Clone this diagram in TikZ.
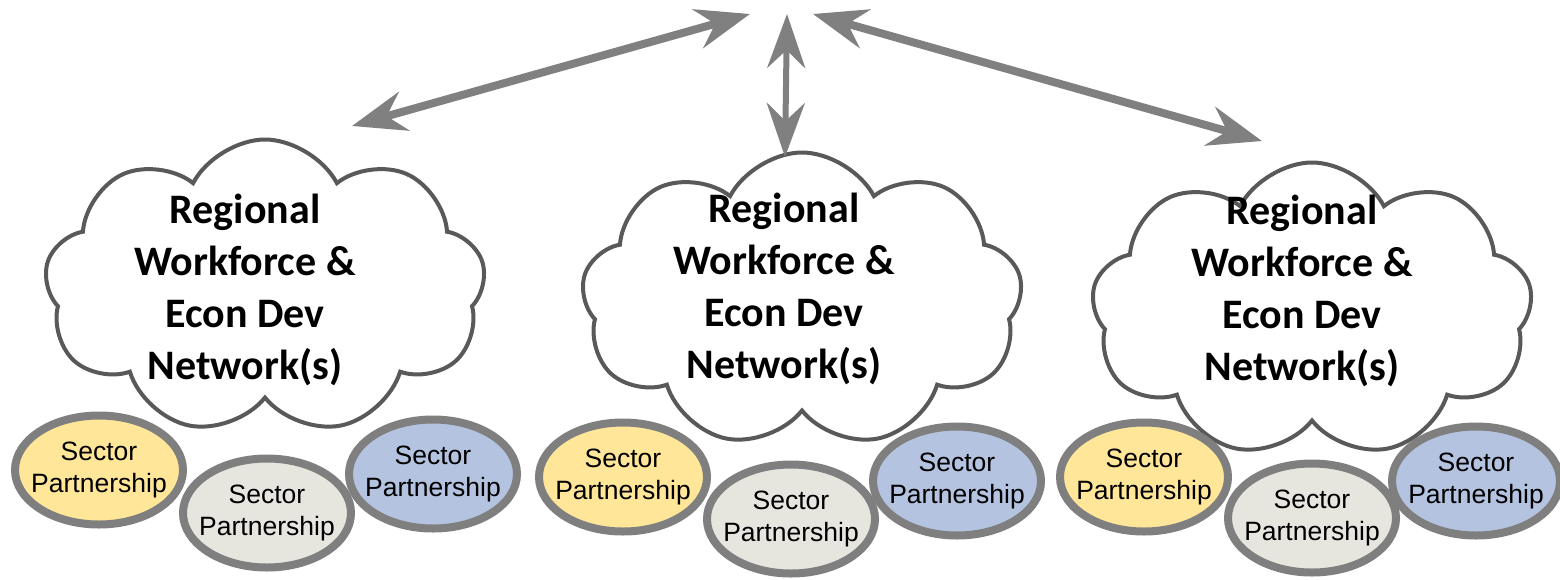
\documentclass[tikz,border=0pt]{standalone}
\usepackage{fontspec}
\setmainfont{Carlito}
\newfontfamily\arialf{Liberation Sans}
\usetikzlibrary{shapes.symbols,shapes.geometric,arrows.meta}
\definecolor{cloudline}{HTML}{595959}
\definecolor{arrowgray}{HTML}{808080}
\definecolor{ellline}{HTML}{7F7F7F}
\definecolor{fillyellow}{HTML}{FFE699}
\definecolor{fillgray}{HTML}{E7E6DE}
\definecolor{fillblue}{HTML}{B4C3E0}
\tikzset{
  cloudbox/.style={cloud, cloud puffs=9, cloud puff arc=125, aspect=1.55,
    draw=cloudline, line width=4pt, fill=white, inner sep=0pt,
    minimum width=441pt, minimum height=295pt},
  cloudtext/.style={align=center, font=\fontsize{42}{52}\selectfont\bfseries, inner sep=0pt},
  sector/.style={ellipse, draw=ellline, line width=8pt, minimum width=168pt, minimum height=109pt,
    inner xsep=-14pt, inner ysep=0pt, align=center, font=\arialf\fontsize{26.5}{32}\selectfont},
  bigarrow/.style={draw=arrowgray, line width=8pt,
    arrows={Stealth[length=54pt,width=40pt,inset=18pt]-Stealth[length=54pt,width=40pt,inset=18pt]}},
  thinarrow/.style={draw=arrowgray, line width=6pt,
    arrows={Stealth[length=54pt,width=38pt,inset=18pt]-Stealth[length=54pt,width=38pt,inset=18pt]}}
}
\begin{document}
\begin{tikzpicture}[x=1pt,y=-1pt]
\useasboundingbox (0,0) rectangle (1560,579);

% clouds
\node[cloudbox] (c1) at (265,287) {};
\node[cloudbox] (c2) at (802,300) {};
\node[cloudbox] (c3) at (1312,310) {};
\node[cloudtext] (t1) at (245,290) {Regional\\Workforce \&\\Econ Dev\\Network(s)};
\node[cloudtext] (t2) at (784,289) {Regional\\Workforce \&\\Econ Dev\\Network(s)};
\node[cloudtext] (t3) at (1302,291) {Regional\\Workforce \&\\Econ Dev\\Network(s)};

% sector partnerships
\node[sector, fill=fillyellow] (y1) at (99,470) {Sector\\Partnership};
\node[sector, fill=fillgray]   (g1) at (267,513) {Sector\\Partnership};
\node[sector, fill=fillblue]   (b1) at (433,474) {Sector\\Partnership};

\node[sector, fill=fillyellow] (y2) at (623,477) {Sector\\Partnership};
\node[sector, fill=fillgray]   (g2) at (791,519) {Sector\\Partnership};
\node[sector, fill=fillblue]   (b2) at (957,481) {Sector\\Partnership};

\node[sector, fill=fillyellow] (y3) at (1144,477) {Sector\\Partnership};
\node[sector, fill=fillgray]   (g3) at (1312,518) {Sector\\Partnership};
\node[sector, fill=fillblue]   (b3) at (1476,481) {Sector\\Partnership};

% arrows
\coordinate (a1s) at (352,126);
\coordinate (a1e) at (750,14);
\coordinate (a2s) at (787,14);
\coordinate (a2e) at (785,157);
\coordinate (a3s) at (813,14);
\coordinate (a3e) at (1262,141);
\draw[bigarrow] (a1s) -- (a1e);
\draw[thinarrow] (a2s) -- (a2e);
\draw[bigarrow] (a3s) -- (a3e);
\end{tikzpicture}
\end{document}
